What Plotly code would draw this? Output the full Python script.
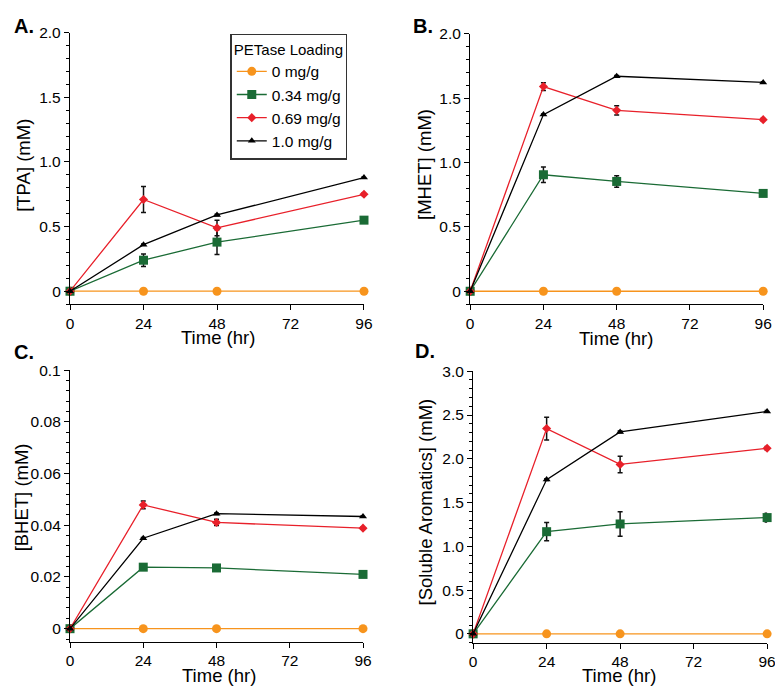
import plotly.graph_objects as go

# ---- data ----
time_hr = [0, 24, 48, 96]
loadings = ["0 mg/g", "0.34 mg/g", "0.69 mg/g", "1.0 mg/g"]

tpa_0 = [0, 0, 0, 0]
tpa_034 = [0, 0.24, 0.38, 0.55]
tpa_034_err = [0, 0.048, 0.095, 0.02]
tpa_069 = [0, 0.71, 0.49, 0.75]
tpa_069_err = [0, 0.10, 0.06, 0.01]
tpa_10 = [0, 0.36, 0.59, 0.88]
tpa_10_err = [0, 0.005, 0.005, 0.005]

mhet_0 = [0, 0, 0, 0]
mhet_034 = [0, 0.905, 0.853, 0.76]
mhet_034_err = [0, 0.06, 0.045, 0.015]
mhet_069 = [0, 1.59, 1.405, 1.333]
mhet_069_err = [0, 0.03, 0.035, 0.01]
mhet_10 = [0, 1.372, 1.67, 1.622]
mhet_10_err = [0, 0.005, 0.005, 0.005]

bhet_0 = [0, 0, 0, 0]
bhet_034 = [0, 0.0238, 0.0235, 0.021]
bhet_034_err = [0, 0.001, 0.0008, 0.0006]
bhet_069 = [0, 0.0479, 0.0411, 0.0389]
bhet_069_err = [0, 0.0015, 0.0012, 0.0004]
bhet_10 = [0, 0.035, 0.0445, 0.0434]
bhet_10_err = [0, 0.0003, 0.0003, 0.0003]

sol_0 = [0, 0, 0, 0]
sol_034 = [0, 1.167, 1.255, 1.328]
sol_034_err = [0, 0.105, 0.14, 0.05]
sol_069 = [0, 2.345, 1.935, 2.12]
sol_069_err = [0, 0.13, 0.095, 0.02]
sol_10 = [0, 1.762, 2.307, 2.54]
sol_10_err = [0, 0.01, 0.01, 0.01]

x_tickvals = [0, 24, 48, 72, 96]
x_ticktext = ["0", "24", "48", "72", "96"]

# ---- styles ----
colors = ["#F7941D", "#1A6B35", "#E8202A", "#000000"]
symbols = ["circle", "square", "diamond", "triangle-up"]
msizes = [9, 9, 7, 7]

# offset of the plot div inside the browser window
OX, OY = 8, 15
W, H = 783 - OX, 693 - OY
FONT = "Liberation Sans, Arial, sans-serif"


def fx(px):
    return (px - OX) / W


def fy(py):
    return 1 - (py - OY) / H


panels = [
    dict(name="A.", ylab="[TPA] (mM)",
         series=[(tpa_0, None), (tpa_034, tpa_034_err), (tpa_069, tpa_069_err), (tpa_10, tpa_10_err)],
         yr=[-0.1, 2.0], ytv=[0, 0.5, 1.0, 1.5, 2.0], ytt=["0", "0.5", "1.0", "1.5", "2.0"], ydt=0.1,
         px=(67, 366), py=(31, 306), lab=(8, 24), yt=(19, 165), xt=(218, 340)),
    dict(name="B.", ylab="[MHET] (mM)",
         series=[(mhet_0, None), (mhet_034, mhet_034_err), (mhet_069, mhet_069_err), (mhet_10, mhet_10_err)],
         yr=[-0.1, 2.0], ytv=[0, 0.5, 1.0, 1.5, 2.0], ytt=["0", "0.5", "1.0", "1.5", "2.0"], ydt=0.1,
         px=(474, 772), py=(32, 306), lab=(414, 24), yt=(427, 164), xt=(622, 341)),
    dict(name="C.", ylab="[BHET] (mM)",
         series=[(bhet_0, None), (bhet_034, bhet_034_err), (bhet_069, bhet_069_err), (bhet_10, bhet_10_err)],
         yr=[-0.005, 0.1], ytv=[0, 0.02, 0.04, 0.06, 0.08, 0.1],
         ytt=["0", "0.02", "0.04", "0.06", "0.08", "0.1"], ydt=0.004,
         px=(67, 365), py=(373, 648), lab=(8, 354), yt=(18, 502), xt=(219, 682)),
    dict(name="D.", ylab="[Soluble Aromatics] (mM)",
         series=[(sol_0, None), (sol_034, sol_034_err), (sol_069, sol_069_err), (sol_10, sol_10_err)],
         yr=[-0.1, 3.0], ytv=[0, 0.5, 1.0, 1.5, 2.0, 2.5, 3.0],
         ytt=["0", "0.5", "1.0", "1.5", "2.0", "2.5", "3.0"], ydt=0.1,
         px=(477, 776), py=(374, 649), lab=(416, 353), yt=(429, 506), xt=(625, 682)),
]

fig = go.Figure()
annotations = []
layout = {}

for i, p in enumerate(panels):
    k = "" if i == 0 else str(i + 1)
    xa, ya = "x" + k, "y" + k
    for j, (vals, err) in enumerate(p["series"]):
        tr = dict(
            x=time_hr, y=vals, xaxis=xa, yaxis=ya,
            mode="lines+markers", name=loadings[j], legendgroup=loadings[j],
            showlegend=(i == 0), cliponaxis=False,
            line=dict(color=colors[j], width=1.3),
            marker=dict(symbol=symbols[j], size=msizes[j], color=colors[j]),
        )
        if err is not None:
            tr["error_y"] = dict(type="data", array=err, visible=True,
                                 color="#111111", thickness=1.5, width=2.5)
        fig.add_trace(go.Scatter(**tr))

    x0, x1 = p["px"]
    y0, y1 = p["py"]
    layout["xaxis" + k] = dict(
        domain=[fx(x0), min(fx(x1), 1.0)], anchor=ya, range=[0, 96],
        tickvals=x_tickvals, ticktext=x_ticktext,
        showline=True, linecolor="black", linewidth=1.3, mirror=False,
        ticks="outside", ticklen=5, tickwidth=1.3, tickcolor="black",
        showgrid=False, zeroline=False,
        tickfont=dict(family=FONT, size=15.5, color="black"),
    )
    layout["yaxis" + k] = dict(
        domain=[fy(y1), fy(y0)], anchor=xa, range=p["yr"],
        tickvals=p["ytv"], ticktext=p["ytt"],
        showline=True, linecolor="black", linewidth=1.3, mirror=False,
        ticks="outside", ticklen=5, tickwidth=1.3, tickcolor="black",
        minor=dict(ticks="outside", ticklen=3, tickwidth=1, tickcolor="black", dtick=p["ydt"],
                   tick0=0, showgrid=False),
        showgrid=False, zeroline=False,
        tickfont=dict(family=FONT, size=15.5, color="black"),
    )
    annotations.append(dict(
        text=p["ylab"], x=fx(p["yt"][0]), y=fy(p["yt"][1]),
        xref="paper", yref="paper", xanchor="center", yanchor="middle",
        textangle=-90, showarrow=False,
        font=dict(family=FONT, size=18.5, color="black"),
    ))
    annotations.append(dict(
        text="Time (hr)", x=fx(p["xt"][0]), y=fy(p["xt"][1]),
        xref="paper", yref="paper", xanchor="center", yanchor="middle",
        showarrow=False, font=dict(family=FONT, size=18.5, color="black"),
    ))
    annotations.append(dict(
        text="<b>" + p["name"] + "</b>", x=fx(p["lab"][0]), y=fy(p["lab"][1]),
        xref="paper", yref="paper", xanchor="left", yanchor="middle",
        showarrow=False, font=dict(family=FONT, size=20, color="black"),
    ))

fig.update_layout(
    width=W, height=H,
    margin=dict(l=0, r=0, t=0, b=0),
    paper_bgcolor="white", plot_bgcolor="white",
    showlegend=True,
    legend=dict(
        x=fx(230), y=fy(32), xanchor="left", yanchor="top",
        bordercolor="#333333", borderwidth=1.5, bgcolor="white",
        title=dict(text="PETase Loading", side="top",
                   font=dict(family=FONT, size=15, color="black")),
        font=dict(family=FONT, size=15.5, color="black"),
        tracegroupgap=0,
    ),
    annotations=annotations,
    **layout,
)

fig.write_html("out.html")
